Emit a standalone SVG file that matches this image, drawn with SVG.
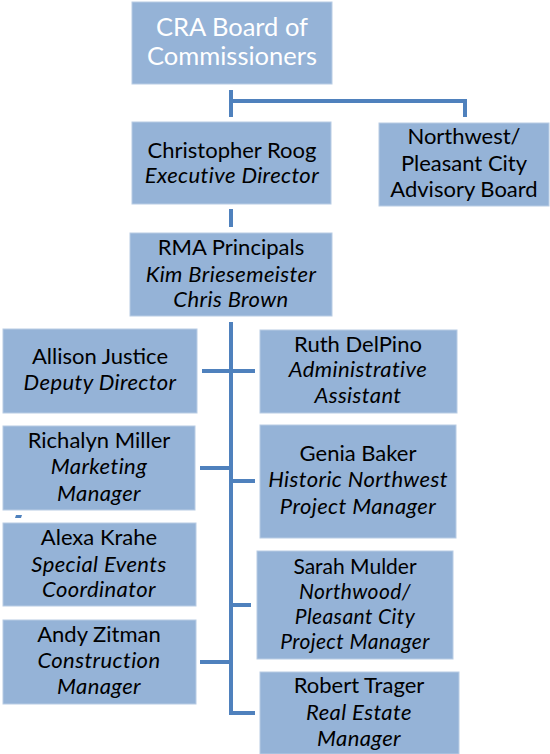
<svg xmlns="http://www.w3.org/2000/svg" width="550" height="754" viewBox="0 0 550 754">
  <style>
    .box { fill: #95B3D7; stroke: #B8CCE4; stroke-width: 1; }
    .ln { stroke: #4F81BD; stroke-width: 4; fill: none; }
    text { font-family: Lato, "Liberation Sans", sans-serif; font-size: 22px; fill: #000; text-anchor: middle; }
    .t { font-style: italic; letter-spacing: 0.4px; }
    .top { fill: #FFFFFF; font-size: 25.5px; }
    .sm { font-size: 21px; }
  </style>
  <rect width="550" height="754" fill="#FFFFFF"/>

  <g id="connectors">
    <path class="ln" d="M231 90 V117 M231 101 H465 V117"/>
    <path class="ln" d="M231 209 V227"/>
    <path class="ln" d="M231 322 V713 H255"/>
    <path class="ln" d="M202 371 H255"/>
    <path class="ln" d="M200 468 H231 M231 481 H255"/>
    <path class="ln" d="M231 605 H251"/>
    <path class="ln" d="M200 662 H231"/>
    <path d="M16 515 L22 515 L21 518 L15 518 Z" fill="#4F81BD"/>
  </g>

  <g id="board">
    <rect class="box" x="132" y="2" width="200" height="82"/>
    <text class="top" x="232" y="36">CRA Board of</text>
    <text class="top" x="232" y="65">Commissioners</text>
  </g>

  <g id="executive-director">
    <rect class="box" x="132" y="122" width="199" height="82"/>
    <text x="232" y="158">Christopher Roog</text>
    <text class="t" x="232" y="183">Executive Director</text>
  </g>

  <g id="advisory-board">
    <rect class="box" x="379" y="123" width="170" height="83"/>
    <text x="464" y="144">Northwest/</text>
    <text x="464" y="171">Pleasant City</text>
    <text x="464" y="197">Advisory Board</text>
  </g>

  <g id="rma-principals">
    <rect class="box" x="130" y="233" width="202" height="83"/>
    <text x="231" y="255">RMA Principals</text>
    <text class="t" x="231" y="282">Kim Briesemeister</text>
    <text class="t" x="231" y="307">Chris Brown</text>
  </g>

  <g id="allison-justice">
    <rect class="box" x="3" y="329" width="194" height="84"/>
    <text x="100" y="364">Allison Justice</text>
    <text class="t" x="100" y="390">Deputy Director</text>
  </g>

  <g id="ruth-delpino">
    <rect class="box" x="260" y="330" width="197" height="83"/>
    <text x="358" y="352">Ruth DelPino</text>
    <text class="t" x="358" y="377">Administrative</text>
    <text class="t" x="358" y="403">Assistant</text>
  </g>

  <g id="richalyn-miller">
    <rect class="box" x="3" y="426" width="192" height="84"/>
    <text x="99" y="448">Richalyn Miller</text>
    <text class="t" x="99" y="474">Marketing</text>
    <text class="t" x="99" y="501">Manager</text>
  </g>

  <g id="genia-baker">
    <rect class="box" x="260" y="425" width="196" height="113"/>
    <text x="358" y="461">Genia Baker</text>
    <text class="t" x="358" y="487">Historic Northwest</text>
    <text class="t" x="358" y="514">Project Manager</text>
  </g>

  <g id="alexa-krahe">
    <rect class="box" x="3" y="523" width="193" height="83"/>
    <text x="99" y="545">Alexa Krahe</text>
    <text class="t" x="99" y="572">Special Events</text>
    <text class="t" x="99" y="597">Coordinator</text>
  </g>

  <g id="sarah-mulder">
    <rect class="box" x="257" y="551" width="196" height="108"/>
    <text class="sm" x="355" y="574">Sarah Mulder</text>
    <text class="t sm" x="355" y="599">Northwood/</text>
    <text class="t sm" x="355" y="624">Pleasant City</text>
    <text class="t sm" x="355" y="649">Project Manager</text>
  </g>

  <g id="andy-zitman">
    <rect class="box" x="3" y="620" width="193" height="84"/>
    <text x="99" y="642">Andy Zitman</text>
    <text class="t" x="99" y="668">Construction</text>
    <text class="t" x="99" y="694">Manager</text>
  </g>

  <g id="robert-trager">
    <rect class="box" x="260" y="672" width="199" height="82"/>
    <text x="359" y="693">Robert Trager</text>
    <text class="t" x="359" y="720">Real Estate</text>
    <text class="t" x="359" y="746">Manager</text>
  </g>
</svg>
